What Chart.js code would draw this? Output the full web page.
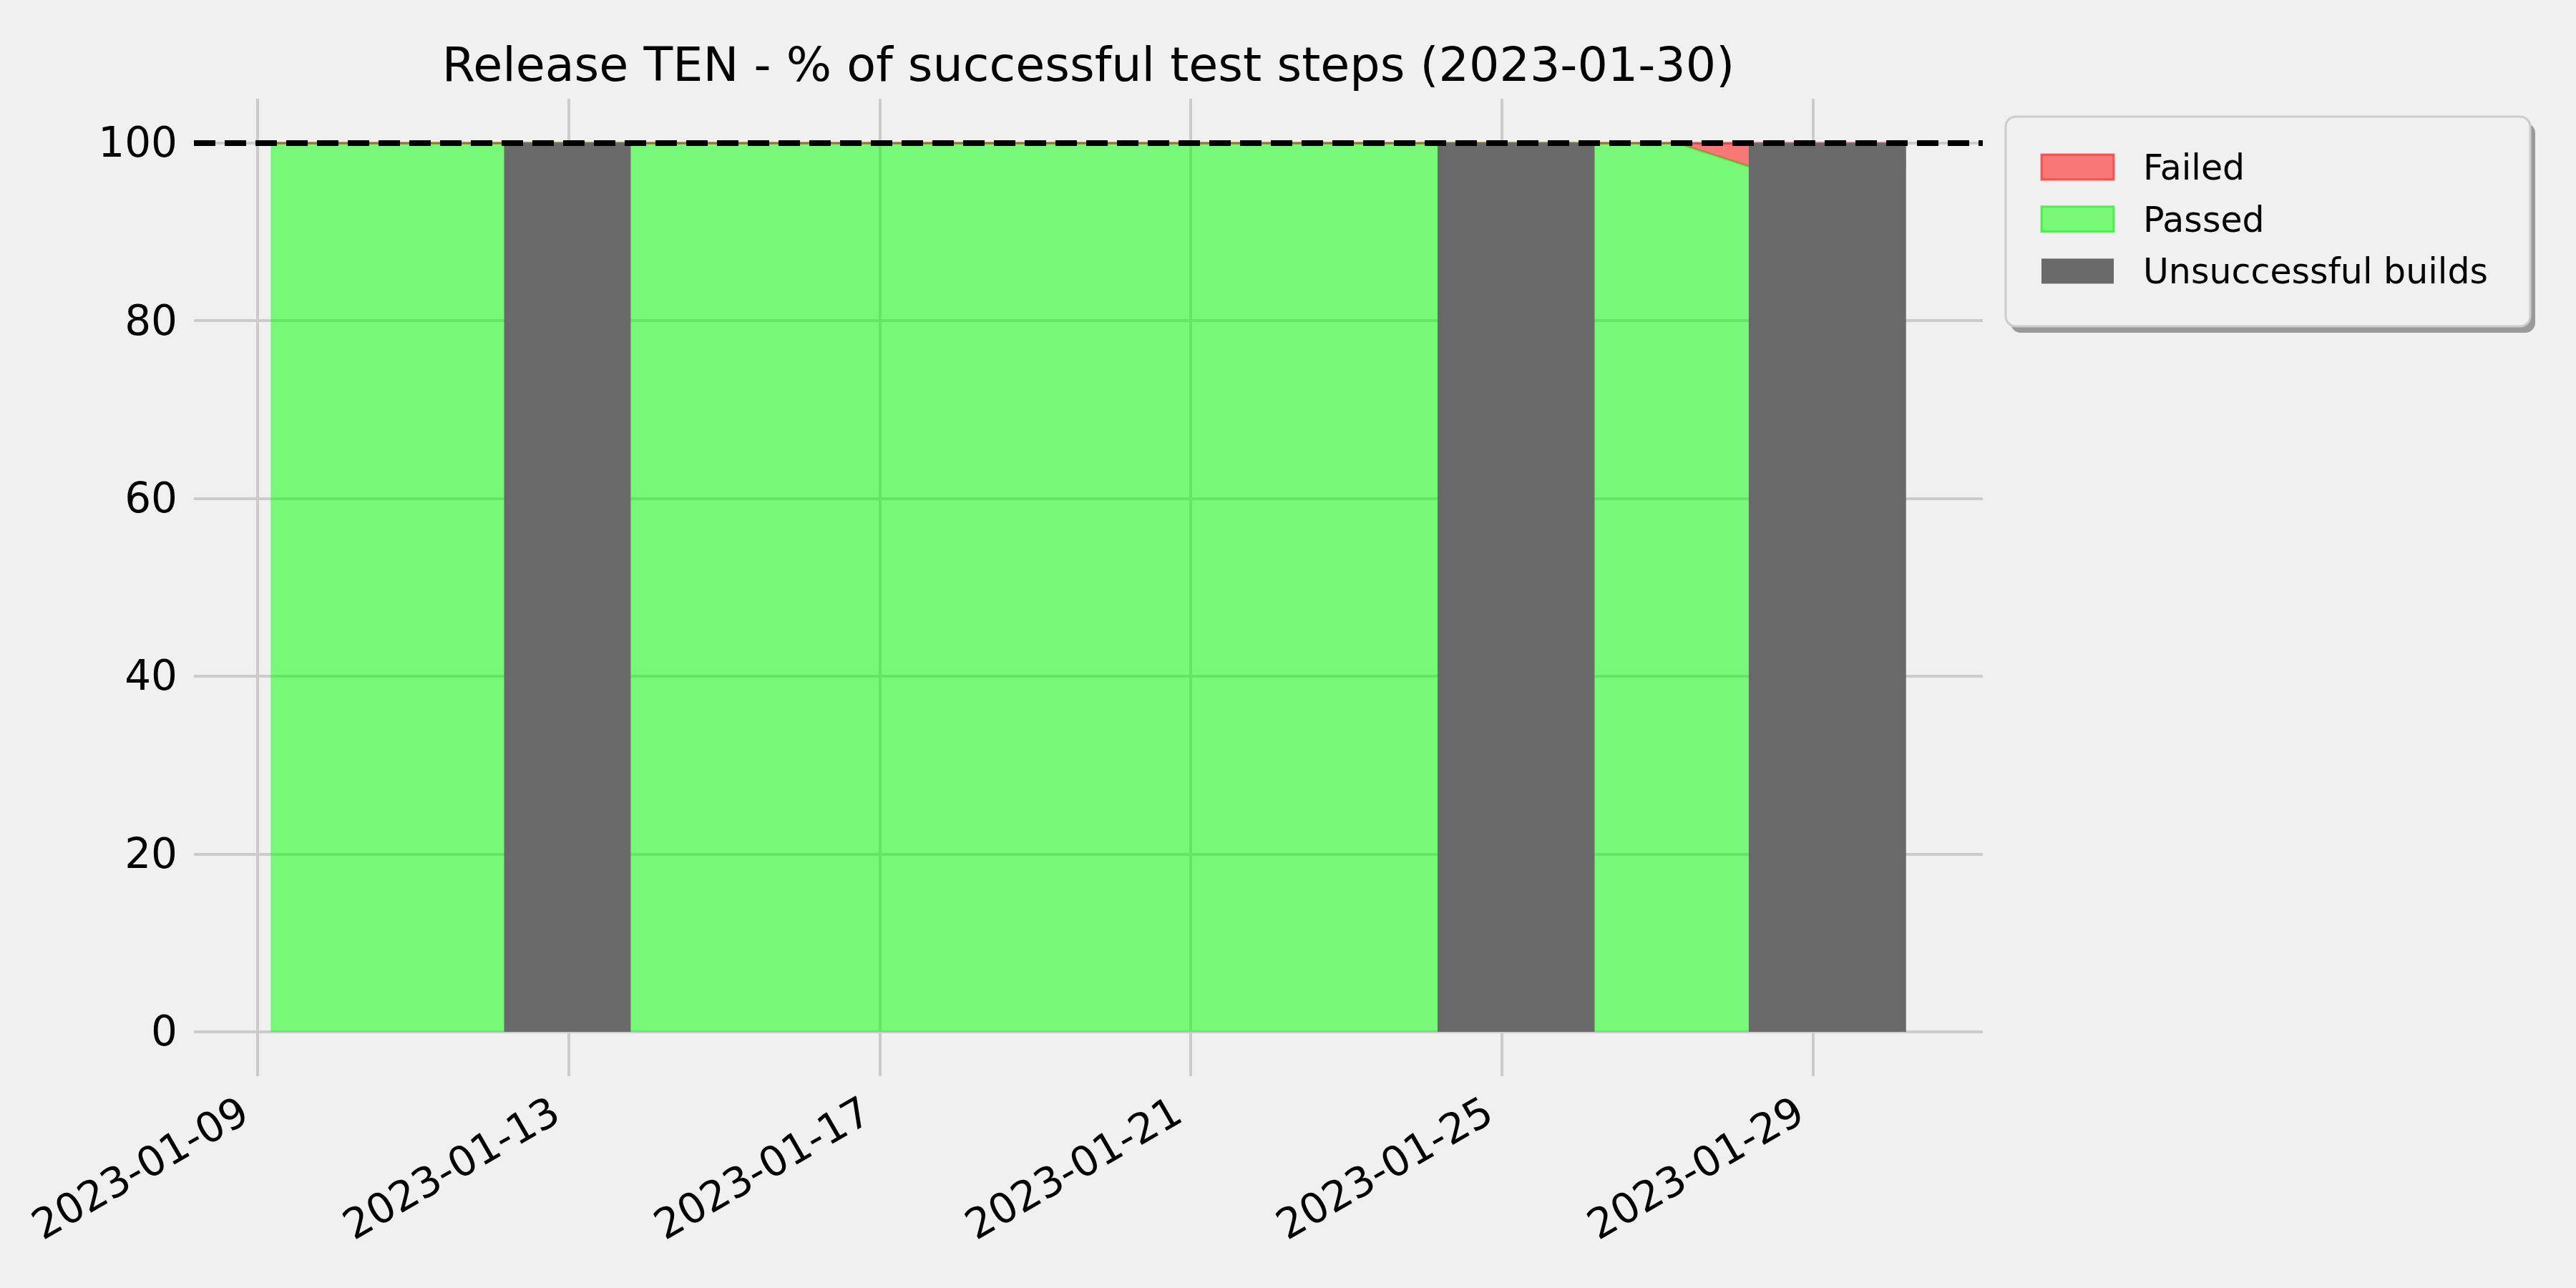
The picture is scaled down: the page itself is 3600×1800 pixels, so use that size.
<!DOCTYPE html>
<html>
<head>
<meta charset="utf-8">
<script src="https://cdn.jsdelivr.net/npm/chart.js@4.4.1/dist/chart.umd.min.js"></script>
<style>
  html, body { margin: 0; padding: 0; background: #f0f0f0; }
  canvas { display: block; }
</style>
</head>
<body>
<canvas id="myChart" width="3600" height="1800"></canvas>
<script>
// --- DATA ---
const chartTitle = "Release TEN - % of successful test steps (2023-01-30)";

// build runs (UTC) and the share of test steps
const runTimes  = ['2023-01-09T04:00', '2023-01-12T04:00', '2023-01-13T19:10', '2023-01-24T04:05',
                   '2023-01-26T04:35', '2023-01-27T06:00', '2023-01-28T04:05', '2023-01-30T04:40'];
const passedPct = [100, 100, 100, 100, 100, 100, 97.4, 97.4];
const failedPct = [0, 0, 0, 0, 0, 0, 2.6, 2.6];

// periods where the build itself failed
const brokenFrom = ['2023-01-12T04:00', '2023-01-24T04:05', '2023-01-28T04:05'];
const brokenTo   = ['2023-01-13T19:10', '2023-01-26T04:35', '2023-01-30T04:40'];

// axis
const xRange = ['2023-01-08T04:20', '2023-01-31T04:20'];
const tickDates = ['2023-01-09', '2023-01-13', '2023-01-17', '2023-01-21', '2023-01-25', '2023-01-29'];
const yTicks = [0, 20, 40, 60, 80, 100];
const targetPct = 100;

// --- HELPERS ---
const toMs = s => Date.parse(s.length > 10 ? s + 'Z' : s + 'T00:00Z');
const fmtDate = v => new Date(v).toISOString().slice(0, 10);
const FONT = '"DejaVu Sans", sans-serif';

const runMs = runTimes.map(toMs);
const passedPts = runMs.map((t, i) => ({ x: t, y: passedPct[i] }));
const failedPts = runMs.map((t, i) => ({ x: t, y: passedPct[i] + failedPct[i] }));
const brokenPts = [];
brokenFrom.forEach((f, i) => {
    const a = toMs(f), b = toMs(brokenTo[i]);
    brokenPts.push({ x: a, y: 0 }, { x: a, y: 100 }, { x: b, y: 100 }, { x: b, y: 0 }, { x: b, y: null });
});

// --- EXTRA DRAWING (title, target line, legend) ---
const extras = {
    id: 'extras',
    afterDatasetsDraw(chart) {
        const { ctx, chartArea, scales } = chart;
        const y = scales.y.getPixelForValue(targetPct);
        ctx.save();
        ctx.strokeStyle = '#000';
        ctx.lineWidth = 8;
        ctx.setLineDash([30, 13]);
        ctx.beginPath();
        ctx.moveTo(chartArea.left, y);
        ctx.lineTo(chartArea.right, y);
        ctx.stroke();
        ctx.restore();
    },
    afterDraw(chart) {
        const { ctx, chartArea } = chart;
        ctx.save();
        // title
        ctx.fillStyle = '#000';
        ctx.font = '66.7px ' + FONT;
        ctx.textAlign = 'center';
        ctx.textBaseline = 'alphabetic';
        ctx.fillText(chartTitle, (chartArea.left + chartArea.right) / 2, chartArea.top - 25);

        // legend box
        const bx = 2803, by = 163, bw = 733, bh = 293, r = 14;
        ctx.fillStyle = '#9a9a9a';
        ctx.beginPath(); ctx.roundRect(bx + 7, by + 9, bw, bh, r); ctx.fill();
        ctx.fillStyle = '#f0f0f0';
        ctx.strokeStyle = '#cccccc';
        ctx.lineWidth = 3;
        ctx.beginPath(); ctx.roundRect(bx, by, bw, bh, r); ctx.fill(); ctx.stroke();

        const ds = chart.data.datasets;
        ctx.font = '49px ' + FONT;
        ctx.textAlign = 'left';
        ds.forEach((d, i) => {
            const py = 216 + i * 72.7;
            ctx.fillStyle = d.backgroundColor;
            ctx.fillRect(2853, py, 101, 35);
            if (d.legendEdge) {
                ctx.strokeStyle = d.legendEdge;
                ctx.lineWidth = 3;
                ctx.strokeRect(2853, py, 101, 35);
            }
            ctx.fillStyle = '#000';
            ctx.fillText(d.label, 2995, py + 35);
        });
        ctx.restore();
    }
};

// --- CHART ---
const ctx = document.getElementById('myChart').getContext('2d');
const myChart = new Chart(ctx, {
    type: 'line',
    data: {
        datasets: [{
            label: 'Failed',
            data: failedPts,
            backgroundColor: 'rgba(255, 0, 0, 0.5)',
            borderColor: 'rgba(255, 0, 0, 0.5)',
            legendEdge: 'rgba(255, 40, 40, 0.7)',
            borderWidth: 3,
            fill: 1,
            order: 1
        }, {
            label: 'Passed',
            data: passedPts,
            backgroundColor: 'rgba(0, 255, 0, 0.5)',
            borderColor: 'rgba(0, 230, 0, 0.5)',
            legendEdge: 'rgba(40, 235, 40, 0.7)',
            borderWidth: 3,
            fill: 'origin',
            order: 2
        }, {
            label: 'Unsuccessful builds',
            data: brokenPts,
            backgroundColor: '#696969',
            borderColor: '#696969',
            borderWidth: 0,
            fill: 'origin',
            spanGaps: false,
            order: 0
        }]
    },
    options: {
        responsive: false,
        animation: false,
        devicePixelRatio: 1,
        parsing: false,
        elements: { point: { radius: 0 }, line: { tension: 0 } },
        layout: { padding: { left: 0, top: 138, right: 829, bottom: 0 } },
        scales: {
            x: {
                type: 'linear',
                min: toMs(xRange[0]),
                max: toMs(xRange[1]),
                afterBuildTicks: s => { s.ticks = tickDates.map(d => ({ value: toMs(d) })); },
                afterFit: s => { s.height = 296; },
                grid: { color: '#cbcbcb', lineWidth: 4, drawTicks: false },
                border: { display: false },
                ticks: {
                    autoSkip: false,
                    minRotation: 30,
                    maxRotation: 30,
                    padding: 18,
                    labelOffset: -16,
                    color: '#000',
                    font: { family: FONT, size: 58 },
                    callback: v => fmtDate(v)
                }
            },
            y: {
                min: -5,
                max: 105,
                afterBuildTicks: s => { s.ticks = yTicks.map(v => ({ value: v })); },
                afterFit: s => { s.width = 271; },
                grid: { color: '#cbcbcb', lineWidth: 4, drawTicks: false },
                border: { display: false },
                ticks: {
                    padding: 23,
                    labelOffset: 4,
                    color: '#000',
                    font: { family: FONT, size: 58 }
                }
            }
        },
        plugins: {
            legend: { display: false },
            title: { display: false },
            tooltip: { enabled: false }
        }
    },
    plugins: [extras]
});
</script>
</body>
</html>
